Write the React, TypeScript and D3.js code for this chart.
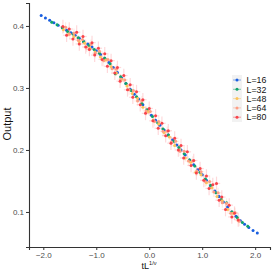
import * as d3 from "d3";
import React, { useEffect, useRef } from "react";

// series labels + colours
const seriesNames = ["L=16", "L=32", "L=48", "L=64", "L=80"];
const seriesColors = ["#1a5fe0", "#10a36b", "#fcc35a", "#fd9e84", "#f8434a"];

const xTicks = [-2, -1, 0, 1, 2];
const yTicks = [0.1, 0.2, 0.3, 0.4];

const x16 = [-2.04, -1.96, -1.88, -1.80, -1.72, -1.64, -1.56, -1.48, -1.40, -1.32, -1.24, -1.16, -1.08, -1.00, -0.92, -0.84, -0.76, -0.68, -0.60, -0.52, -0.44, -0.36, -0.28, -0.20, -0.12, -0.04, 0.04, 0.12, 0.20, 0.28, 0.36, 0.44, 0.52, 0.60, 0.68, 0.76, 0.84, 0.92, 1.00, 1.08, 1.16, 1.24, 1.32, 1.40, 1.48, 1.56, 1.64, 1.72, 1.80, 1.88, 1.96, 2.04];
const y16 = [0.417, 0.413, 0.409, 0.405, 0.401, 0.397, 0.393, 0.389, 0.385, 0.380, 0.375, 0.371, 0.366, 0.360, 0.354, 0.348, 0.341, 0.333, 0.325, 0.316, 0.307, 0.298, 0.290, 0.282, 0.273, 0.264, 0.256, 0.248, 0.240, 0.232, 0.224, 0.216, 0.208, 0.200, 0.192, 0.184, 0.176, 0.168, 0.160, 0.151, 0.142, 0.134, 0.125, 0.116, 0.108, 0.100, 0.093, 0.086, 0.080, 0.075, 0.070, 0.066];

const x32 = [-1.84, -1.74, -1.64, -1.54, -1.44, -1.34, -1.24, -1.14, -1.04, -0.94, -0.84, -0.74, -0.64, -0.54, -0.44, -0.34, -0.24, -0.14, -0.04, 0.06, 0.16, 0.26, 0.36, 0.46, 0.56, 0.66, 0.76, 0.86, 0.96, 1.06, 1.16, 1.26, 1.36, 1.46, 1.56, 1.66, 1.76, 1.86];
const y32 = [0.406, 0.402, 0.397, 0.391, 0.387, 0.381, 0.375, 0.369, 0.362, 0.356, 0.348, 0.339, 0.323, 0.318, 0.307, 0.296, 0.286, 0.275, 0.265, 0.254, 0.244, 0.234, 0.224, 0.214, 0.204, 0.194, 0.184, 0.174, 0.164, 0.153, 0.143, 0.131, 0.120, 0.115, 0.100, 0.091, 0.083, 0.077];

const x48 = [-1.62, -1.52, -1.42, -1.32, -1.22, -1.12, -1.02, -0.92, -0.82, -0.72, -0.62, -0.52, -0.42, -0.32, -0.22, -0.12, -0.02, 0.08, 0.18, 0.28, 0.38, 0.48, 0.58, 0.68, 0.78, 0.88, 0.98, 1.08, 1.18, 1.28, 1.38, 1.48, 1.58, 1.68];
const y48 = [0.394, 0.387, 0.383, 0.375, 0.372, 0.364, 0.358, 0.350, 0.345, 0.334, 0.324, 0.314, 0.303, 0.291, 0.283, 0.269, 0.262, 0.248, 0.242, 0.228, 0.221, 0.207, 0.200, 0.187, 0.180, 0.164, 0.160, 0.147, 0.139, 0.125, 0.118, 0.104, 0.098, 0.087];

const x64 = [-1.58, -1.50, -1.42, -1.34, -1.26, -1.18, -1.10, -1.02, -0.94, -0.86, -0.78, -0.70, -0.62, -0.54, -0.46, -0.38, -0.30, -0.22, -0.14, -0.06, 0.02, 0.10, 0.18, 0.26, 0.34, 0.42, 0.50, 0.58, 0.66, 0.74, 0.82, 0.90, 0.98, 1.06, 1.14, 1.22, 1.30, 1.38, 1.46, 1.54, 1.62, 1.70];
const y64 = [0.398, 0.387, 0.388, 0.377, 0.378, 0.366, 0.370, 0.356, 0.359, 0.344, 0.346, 0.331, 0.330, 0.314, 0.313, 0.297, 0.296, 0.279, 0.279, 0.263, 0.262, 0.246, 0.246, 0.230, 0.230, 0.213, 0.214, 0.198, 0.198, 0.182, 0.182, 0.166, 0.165, 0.149, 0.149, 0.132, 0.131, 0.115, 0.114, 0.098, 0.099, 0.085];

const x80 = [-1.63, -1.56, -1.51, -1.44, -1.37, -1.32, -1.25, -1.20, -1.13, -1.08, -1.03, -0.96, -0.89, -0.84, -0.79, -0.72, -0.65, -0.60, -0.55, -0.48, -0.41, -0.36, -0.31, -0.24, -0.17, -0.12, -0.07, 0.00, 0.07, 0.12, 0.17, 0.24, 0.31, 0.36, 0.41, 0.48, 0.55, 0.60, 0.65, 0.72, 0.79, 0.84, 0.89, 0.96, 1.03, 1.08, 1.13, 1.20, 1.27, 1.32, 1.37, 1.44, 1.51, 1.56, 1.61, 1.68];
const y80 = [0.399, 0.385, 0.395, 0.379, 0.390, 0.371, 0.383, 0.366, 0.362, 0.373, 0.353, 0.364, 0.346, 0.355, 0.335, 0.344, 0.324, 0.333, 0.311, 0.320, 0.297, 0.305, 0.285, 0.294, 0.273, 0.281, 0.259, 0.267, 0.247, 0.255, 0.235, 0.243, 0.223, 0.231, 0.211, 0.219, 0.200, 0.207, 0.187, 0.197, 0.175, 0.183, 0.163, 0.170, 0.151, 0.158, 0.138, 0.144, 0.146, 0.119, 0.124, 0.104, 0.111, 0.092, 0.098, 0.087];

// error half-widths per series (y, x)
const yErrs = [0.002, 0.003, 0.005, 0.008, 0.011];
const xErrs = [0.02, 0.03, 0.04, 0.06, 0.07];

const allX = [x16, x32, x48, x64, x80];
const allY = [y16, y32, y48, y64, y80];

const W = 273;
const H = 273;

function App() {
    const ref = useRef<SVGSVGElement>(null);

    useEffect(() => {
        const svg = d3.select(ref.current);
        svg.selectAll("*").remove();

        const xScale = d3.scaleLinear().domain([-2.27, 2.28]).range([29, 270]);
        const yScale = d3.scaleLinear().domain([0.0435, 0.437]).range([247, 3]);
        const font = "'Liberation Sans', Arial, sans-serif";

        /*
        error bars
         */
        const errG = svg.append("g");
        allX.forEach((xs, s) => {
            const ys = allY[s];
            xs.forEach((xv, i) => {
                const cx = xScale(xv), cy = yScale(ys[i]);
                errG.append("line")
                    .attr("x1", cx).attr("x2", cx)
                    .attr("y1", yScale(ys[i] + yErrs[s])).attr("y2", yScale(ys[i] - yErrs[s]))
                    .attr("stroke", seriesColors[s]).attr("stroke-opacity", 0.2).attr("stroke-width", 1.2);
                errG.append("line")
                    .attr("x1", xScale(xv - xErrs[s])).attr("x2", xScale(xv + xErrs[s]))
                    .attr("y1", cy).attr("y2", cy)
                    .attr("stroke", seriesColors[s]).attr("stroke-opacity", 0.2).attr("stroke-width", 1.2);
            });
        });

        /*
        points
         */
        allX.forEach((xs, s) => {
            const ys = allY[s];
            svg.append("g").selectAll("circle").data(xs).enter()
                .append("circle")
                .attr("cx", (d: number) => xScale(d))
                .attr("cy", (_d: number, i: number) => yScale(ys[i]))
                .attr("r", 1.5)
                .attr("fill", seriesColors[s]);
        });

        /*
        axes
         */
        const xAxis = svg.append("g").attr("transform", "translate(0,247)")
            .call(d3.axisBottom(xScale).tickValues(xTicks).tickSize(3).tickPadding(2).tickFormat(d3.format(".1f")));
        const yAxis = svg.append("g").attr("transform", "translate(29,0)")
            .call(d3.axisLeft(yScale).tickValues(yTicks).tickSize(3).tickPadding(2).tickFormat(d3.format(".1f")));
        [xAxis, yAxis].forEach(ax => {
            ax.select(".domain").attr("stroke", "#333").attr("stroke-width", 1.1);
            ax.selectAll(".tick line").attr("stroke", "#333");
            ax.selectAll(".tick text").attr("fill", "#4d4d4d").style("font-family", font).style("font-size", "8px");
        });

        /*
        axis titles
         */
        const xt = svg.append("text")
            .attr("x", 149).attr("y", 269)
            .attr("text-anchor", "middle")
            .style("font-family", font).style("font-size", "9px").attr("fill", "#111");
        xt.append("tspan").text("tL");
        xt.append("tspan").attr("dy", -4.5).style("font-size", "5.5px").text("1/ν");

        svg.append("text")
            .attr("transform", "translate(11,124) rotate(-90)")
            .attr("text-anchor", "middle")
            .style("font-family", font).style("font-size", "11px").attr("fill", "#111")
            .text("Output");

        /*
        legend
         */
        const leg = svg.append("g");
        leg.append("rect").attr("x", 232).attr("y", 75).attr("width", 10).attr("height", 47).attr("fill", "#f2f2f2");
        seriesNames.forEach((name, i) => {
            const cy = 80 + i * 9.3;
            leg.append("line").attr("x1", 233).attr("x2", 241).attr("y1", cy).attr("y2", cy)
                .attr("stroke", seriesColors[i]).attr("stroke-opacity", 0.5);
            leg.append("circle").attr("cx", 237).attr("cy", cy).attr("r", 1.5).attr("fill", seriesColors[i]);
            leg.append("text").attr("x", 246.5).attr("y", cy + 3.2)
                .style("font-family", font).style("font-size", "8.8px").attr("fill", "#111")
                .text(name);
        });
    }, []);

    return (
        <div style={{ position: "absolute", left: 0, top: 0, width: W, height: H, background: "#fff" }}>
            <svg ref={ref} width={W} height={H} />
        </div>
    );
}

export default App;
